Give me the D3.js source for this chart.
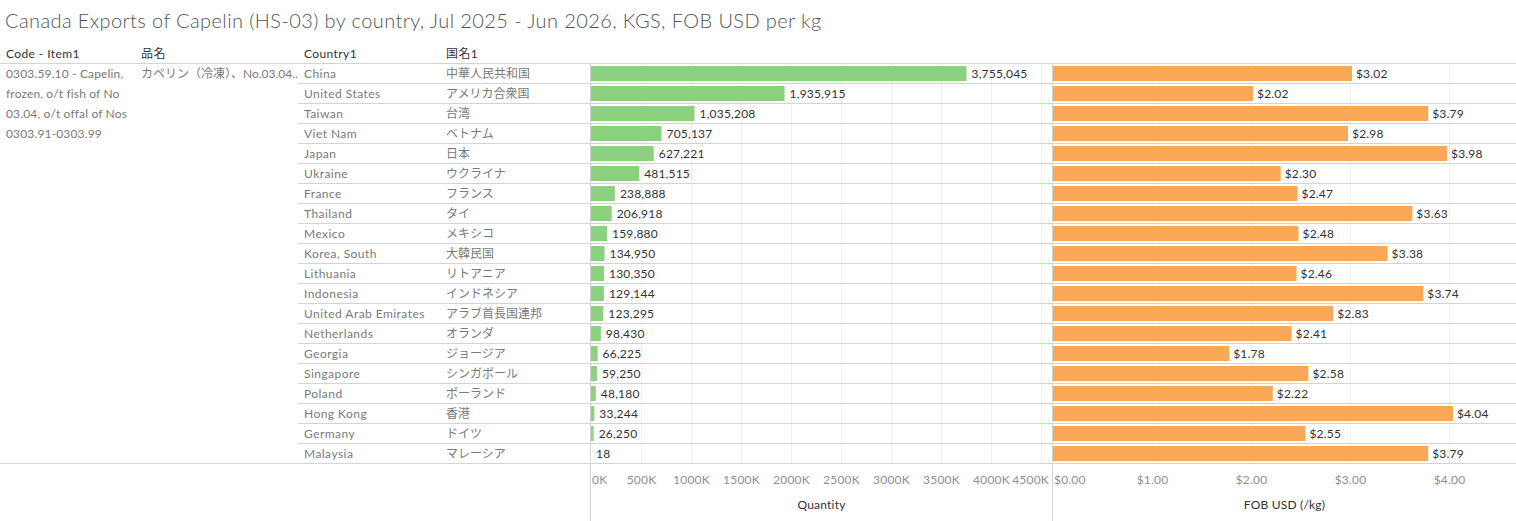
<!DOCTYPE html>
<html>
<head>
<meta charset="utf-8">
<script src="https://cdn.jsdelivr.net/npm/d3@7"></script>
<style>
  body { margin: 0; background: #fff; }
  text { font-family: Lato, "Noto Sans CJK JP", sans-serif; }
</style>
</head>
<body>
<div class="chart"></div>
<script>
// chart data
var titleText = "Canada Exports of Capelin (HS-03) by country, Jul 2025 - Jun 2026, KGS, FOB USD per kg";
var itemCodeLines = ["0303.59.10 - Capelin,", "frozen, o/t fish of No", "03.04, o/t offal of Nos", "0303.91-0303.99"];
var itemNameJa = "カペリン（冷凍）、No.03.04..";

var countries = ["China", "United States", "Taiwan", "Viet Nam", "Japan", "Ukraine", "France", "Thailand",
  "Mexico", "Korea, South", "Lithuania", "Indonesia", "United Arab Emirates", "Netherlands", "Georgia",
  "Singapore", "Poland", "Hong Kong", "Germany", "Malaysia"];
var countriesJa = ["中華人民共和国", "アメリカ合衆国", "台湾", "ベトナム", "日本", "ウクライナ", "フランス", "タイ",
  "メキシコ", "大韓民国", "リトアニア", "インドネシア", "アラブ首長国連邦", "オランダ", "ジョージア",
  "シンガポール", "ポーランド", "香港", "ドイツ", "マレーシア"];
var quantity = [3755045, 1935915, 1035208, 705137, 627221, 481515, 238888, 206918, 159880, 134950,
  130350, 129144, 123295, 98430, 66225, 59250, 48180, 33244, 26250, 18];
var fobUsd = [3.02, 2.02, 3.79, 2.98, 3.98, 2.30, 2.47, 3.63, 2.48, 3.38,
  2.46, 3.74, 2.83, 2.41, 1.78, 2.58, 2.22, 4.04, 2.55, 3.79];

var qtyTicks = [0, 500000, 1000000, 1500000, 2000000, 2500000, 3000000, 3500000, 4000000, 4500000];
var fobTicks = [0, 1, 2, 3, 4];

var svgWidth = 1516;
var svgHeight = 521;

var tableTop = 63;
var rowHeight = 20;
var tableBottom = tableTop + rowHeight * countries.length;

var qtyPane = { left: 591, right: 1052 };
var fobPane = { left: 1053, right: 1516 };

var lineColor = "#d4d4d4";
var gridColor = "#efefef";
var textGray = "#7a7a7a";
var tickGray = "#909090";
var textDark = "#333";

var svg = d3
  .select(".chart")
  .append("svg")
  .attr("width", svgWidth)
  .attr("height", svgHeight);

// title
svg.append("text")
  .attr("x", 5)
  .attr("y", 28)
  .attr("font-size", 20)
  .attr("font-weight", 300)
  .attr("letter-spacing", 0.4)
  .attr("fill", "#555")
  .text(titleText);

// scales
var yScale = d3.scaleBand()
  .domain(countries)
  .range([tableTop, tableBottom]);

var xQty = d3.scaleLinear()
  .domain([0, 4610000])
  .range([qtyPane.left, qtyPane.right]);

var xFob = d3.scaleLinear()
  .domain([0, 4.677])
  .range([fobPane.left, fobPane.right]);

// column headers
var headers = [
  { x: 6, label: "Code - Item1" },
  { x: 141, label: "品名" },
  { x: 304, label: "Country1" },
  { x: 446, label: "国名1" }
];
svg.append("g").selectAll("text")
  .data(headers)
  .enter()
  .append("text")
  .attr("x", d => d.x)
  .attr("y", 58)
  .attr("font-size", 12)
  .attr("letter-spacing", 0.4)
  .attr("fill", textDark)
  .text(d => d.label);

// gridlines
var gridGroup = svg.append("g");
gridGroup.selectAll(".qgrid")
  .data(qtyTicks.slice(1))
  .enter()
  .append("line")
  .attr("x1", d => Math.round(xQty(d)) + 0.5)
  .attr("x2", d => Math.round(xQty(d)) + 0.5)
  .attr("y1", tableTop)
  .attr("y2", tableBottom)
  .attr("stroke", gridColor);

gridGroup.selectAll(".fgrid")
  .data(fobTicks.slice(1))
  .enter()
  .append("line")
  .attr("x1", d => Math.round(xFob(d)) + 0.5)
  .attr("x2", d => Math.round(xFob(d)) + 0.5)
  .attr("y1", tableTop)
  .attr("y2", tableBottom)
  .attr("stroke", gridColor);

// row separators
var lineGroup = svg.append("g");
lineGroup.selectAll("line")
  .data(countries.slice(1))
  .enter()
  .append("line")
  .attr("x1", 298)
  .attr("x2", svgWidth)
  .attr("y1", d => yScale(d) + 0.5)
  .attr("y2", d => yScale(d) + 0.5)
  .attr("stroke", lineColor);

lineGroup.append("line")
  .attr("x1", 0).attr("x2", svgWidth)
  .attr("y1", tableTop + 0.5).attr("y2", tableTop + 0.5)
  .attr("stroke", lineColor);

lineGroup.append("line")
  .attr("x1", 0).attr("x2", svgWidth)
  .attr("y1", tableBottom + 0.5).attr("y2", tableBottom + 0.5)
  .attr("stroke", lineColor);

// pane borders
[qtyPane.left - 0.5, fobPane.left - 0.5].forEach(function(x) {
  lineGroup.append("line")
    .attr("x1", x).attr("x2", x)
    .attr("y1", tableTop).attr("y2", svgHeight)
    .attr("stroke", lineColor);
});

// item code / name (one cell spanning all rows)
svg.append("g").selectAll("text")
  .data(itemCodeLines)
  .enter()
  .append("text")
  .attr("x", 6)
  .attr("y", (d, i) => tableTop + rowHeight / 2 + 1 + i * rowHeight)
  .attr("dy", "0.35em")
  .attr("font-size", 12)
  .attr("letter-spacing", 0.15)
  .attr("fill", textGray)
  .text(d => d);

svg.append("text")
  .attr("x", 141)
  .attr("y", tableTop + rowHeight / 2 + 1)
  .attr("dy", "0.35em")
  .attr("font-size", 12)
  .attr("fill", textGray)
  .text(itemNameJa);

// country names
var rowGroup = svg.append("g");
rowGroup.selectAll(".country")
  .data(countries)
  .enter()
  .append("text")
  .attr("x", 304)
  .attr("y", d => yScale(d) + rowHeight / 2 + 1)
  .attr("dy", "0.35em")
  .attr("font-size", 12)
  .attr("letter-spacing", 0.45)
  .attr("fill", textGray)
  .text(d => d);

rowGroup.selectAll(".countryJa")
  .data(countriesJa)
  .enter()
  .append("text")
  .attr("x", 446)
  .attr("y", (d, i) => yScale(countries[i]) + rowHeight / 2 + 1)
  .attr("dy", "0.35em")
  .attr("font-size", 12)
  .attr("fill", textGray)
  .text(d => d);

// quantity bars
var barHeight = 15;
var qtyGroup = svg.append("g");
qtyGroup.selectAll("rect")
  .data(quantity)
  .enter()
  .append("rect")
  .attr("x", xQty(0))
  .attr("y", (d, i) => yScale(countries[i]) + 3)
  .attr("width", d => xQty(d) - xQty(0))
  .attr("height", barHeight)
  .attr("fill", "#8cd17d");

qtyGroup.selectAll("text")
  .data(quantity)
  .enter()
  .append("text")
  .attr("x", d => xQty(d) + 5)
  .attr("y", (d, i) => yScale(countries[i]) + rowHeight / 2 + 1)
  .attr("dy", "0.35em")
  .attr("font-size", 12)
  .attr("letter-spacing", 0.2)
  .attr("fill", textDark)
  .text(d => d3.format(",")(d));

// FOB bars
var fobGroup = svg.append("g");
fobGroup.selectAll("rect")
  .data(fobUsd)
  .enter()
  .append("rect")
  .attr("x", xFob(0))
  .attr("y", (d, i) => yScale(countries[i]) + 3)
  .attr("width", d => xFob(d) - xFob(0))
  .attr("height", barHeight)
  .attr("fill", "#f9a857");

fobGroup.selectAll("text")
  .data(fobUsd)
  .enter()
  .append("text")
  .attr("x", d => xFob(d) + 4)
  .attr("y", (d, i) => yScale(countries[i]) + rowHeight / 2 + 1)
  .attr("dy", "0.35em")
  .attr("font-size", 12)
  .attr("letter-spacing", 0.2)
  .attr("fill", textDark)
  .text(d => d3.format("$.2f")(d));

// axes
function drawAxis(scale, ticks, fmt, pane, title) {
  var axis = d3.axisBottom(scale)
    .tickValues(ticks)
    .tickSize(0)
    .tickPadding(0)
    .tickFormat(fmt);

  var g = svg.append("g")
    .attr("transform", `translate(0, ${tableBottom + 12})`)
    .call(axis);

  g.select(".domain").remove();
  g.selectAll("text")
    .attr("font-family", null)
    .attr("font-size", 12)
    .attr("letter-spacing", 0.2)
    .attr("fill", tickGray)
    .attr("dy", "0.71em");

  // keep end labels inside the pane
  g.selectAll(".tick").each(function() {
    var t = d3.select(this).select("text");
    var box = this.getBBox();
    var tr = this.transform.baseVal.consolidate().matrix.e;
    var left = tr + box.x;
    var right = tr + box.x + box.width;
    if (left < pane.left + 1) {
      t.attr("x", pane.left + 1 - left);
    } else if (right > pane.right - 3) {
      t.attr("x", pane.right - 3 - right);
    }
  });

  svg.append("text")
    .attr("x", (pane.left + pane.right) / 2)
    .attr("y", 505)
    .attr("dy", "0.35em")
    .attr("text-anchor", "middle")
    .attr("font-size", 12)
    .attr("letter-spacing", 0.2)
    .attr("fill", textDark)
    .text(title);
}

drawAxis(xQty, qtyTicks, d => d3.format("d")(d / 1000) + "K", qtyPane, "Quantity");
drawAxis(xFob, fobTicks, d3.format("$.2f"), fobPane, "FOB USD (/kg)");
</script>
</body>
</html>
